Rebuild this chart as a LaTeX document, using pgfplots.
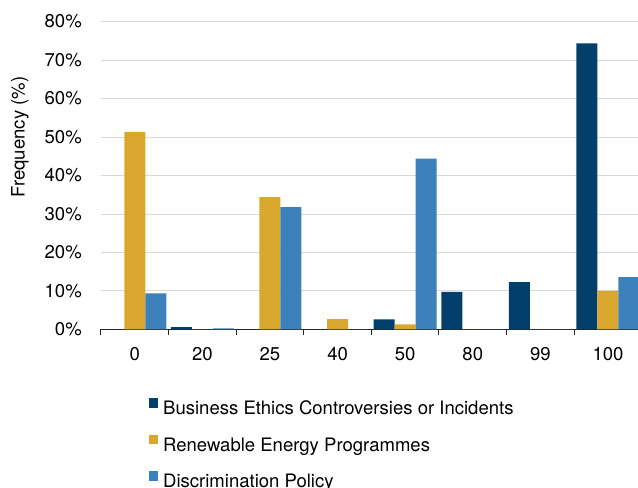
\documentclass[border=0pt]{standalone}
\usepackage{fontspec}
\setmainfont{TeX Gyre Heros}
\usepackage{pgfplots}
\pgfplotsset{compat=1.18}
\usepackage{pgfplotstable}

\definecolor{ethics}{HTML}{033F6B}
\definecolor{renew}{HTML}{D9A72E}
\definecolor{discr}{HTML}{3C81BC}
\definecolor{gridgray}{HTML}{D9D9D9}
\definecolor{axisdark}{HTML}{262626}

% frequency (%) of each score, per indicator
\pgfplotstableread{
idx BE   RE    DP
0   0    51.3  9.4
1   0.6  0     0.3
2   0    34.4  31.8
3   0    2.7   0
4   2.6  1.35  44.4
5   9.8  0     0
6   12.3 0     0
7   74.3 10.0  13.6
}\freqdata

\begin{document}
\begin{tikzpicture}[font=\fontsize{13.9}{16.7}\selectfont]
\useasboundingbox (-75.75pt,-118.875pt) rectangle (402.75pt,247.125pt);
\clip (-75.75pt,-118.875pt) rectangle (402.75pt,247.125pt);
\begin{axis}[
  scale only axis,
  width=405.6pt, height=231pt,
  xmin=-0.5, xmax=7.5, ymin=0, ymax=80,
  ybar=0pt, bar width=15.75pt,
  xtick={0,...,7},
  xticklabels={0,20,25,40,50,80,99,100},
  minor xtick={-0.5,0.5,...,7.5},
  ytick={0,10,...,80},
  yticklabels={0\%,10\%,20\%,30\%,40\%,50\%,60\%,70\%,80\%},
  major tick length=0pt, minor tick length=4.5pt, tick align=outside,
  axis x line*=bottom, axis y line*=left,
  y axis line style={draw=none},
  x axis line style={axisdark, line width=0.75pt},
  minor tick style={axisdark, line width=0.75pt},
  ymajorgrids, major grid style={gridgray, line width=0.75pt},
  xticklabel style={anchor=north, inner sep=0pt, yshift=-13pt},
  yticklabel style={anchor=east, inner sep=0pt, xshift=-14.25pt},
  ylabel={Frequency (\%)},
  ylabel style={at={(axis description cs:-0.1498,0.625)}, anchor=center, inner sep=0pt},
  legend cell align=left,
  legend style={at={(axis description cs:0.0888,-0.2240)}, anchor=north west,
    draw=none, fill=none, inner sep=0pt, outer sep=0pt,
    row sep=12.25pt, column sep=3.5pt,
    nodes={inner sep=0pt, text height=10pt, text depth=3pt}},
  legend image code/.code={\fill[#1] (0pt,1.5pt) rectangle (7.1pt,8.6pt);},
]
\addplot[fill=ethics, draw=none] table[x=idx, y=BE] {\freqdata};
\addlegendentry{Business Ethics Controversies or Incidents}
\addplot[fill=renew, draw=none] table[x=idx, y=RE] {\freqdata};
\addlegendentry{Renewable Energy Programmes}
\addplot[fill=discr, draw=none] table[x=idx, y=DP] {\freqdata};
\addlegendentry{Discrimination Policy}
\end{axis}
\end{tikzpicture}
\end{document}
